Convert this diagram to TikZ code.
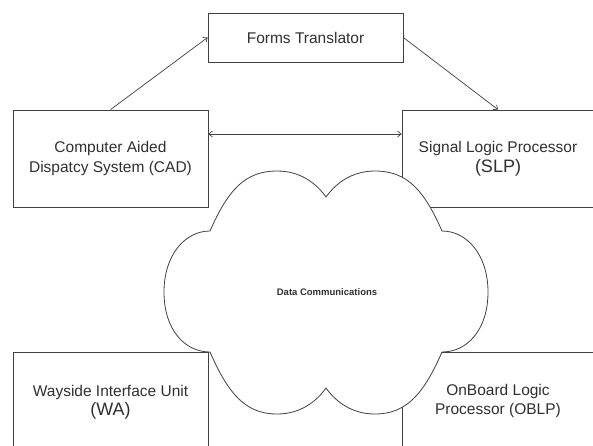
\documentclass[tikz,border=0pt]{standalone}
\usepackage{fontspec}
\setmainfont{Liberation Sans}
\usetikzlibrary{arrows.meta}
\definecolor{linec}{HTML}{404040}
\definecolor{textc}{HTML}{303030}
\tikzset{
  boxnode/.style={draw=linec, line width=0.8pt, fill=white, inner sep=0pt, align=center,
    text=textc, font=\fontsize{15.5}{19.5}\selectfont},
  conn/.style={draw=linec, line width=0.7pt},
  tipend/.style={-{Straight Barb[length=3.5pt,width=6pt]}},
  tipboth/.style={{Straight Barb[length=3.5pt,width=6pt]}-{Straight Barb[length=3.5pt,width=6pt]}},
  cloudline/.style={draw=linec, line width=0.8pt, fill=white},
  bigpar/.style={font=\fontsize{18}{19.5}\selectfont}
}
\begin{document}
\begin{tikzpicture}[x=1pt,y=-1pt]
\useasboundingbox (0,0) rectangle (593,445);
% boxes
\node[boxnode, minimum width=195pt, minimum height=49pt] (ft) at (305.5,37.5) {Forms Translator};
\node[boxnode, minimum width=195pt, minimum height=97pt] (cad) at (110.5,158.5) {Computer Aided\\Dispatcy System (CAD)};
\node[boxnode, minimum width=192pt, minimum height=97pt] (slp) at (498,158.5) {Signal Logic Processor\\{\fontsize{18}{19.5}\selectfont (SLP)}};
\node[boxnode, minimum width=195pt, minimum height=100pt] (wa) at (110.5,402) {Wayside Interface Unit\\{\fontsize{18}{19.5}\selectfont (WA)}};
\node[boxnode, minimum width=192pt, minimum height=98pt] (oblp) at (498,401) {OnBoard Logic\\Processor (OBLP)};
% connectors
\draw[conn, tipend] (cad.north) -- (ft.west);
\draw[conn, tipend] (ft.east) -- (slp.north);
\draw[conn, tipboth] ([yshift=24.5pt]cad.east) -- ([yshift=24.5pt]slp.west);
% cloud
\path[cloudline]
  (210,231) .. controls (228,190) and (245,171) .. (277,171)
            .. controls (300,171) and (316,183) .. (326,197)
            .. controls (336,183) and (352,171) .. (375,171)
            .. controls (407,171) and (424,190) .. (442,231)
            .. controls (467,231) and (488,255) .. (488,292)
            .. controls (488,330) and (467,352) .. (442,352)
            .. controls (424,393) and (407,414) .. (375,414)
            .. controls (352,414) and (336,402) .. (326,388)
            .. controls (316,402) and (300,414) .. (277,414)
            .. controls (245,414) and (228,393) .. (210,352)
            .. controls (185,352) and (164,330) .. (164,292)
            .. controls (164,255) and (185,231) .. (210,231) -- cycle;
\node[text=textc, font=\bfseries\fontsize{9.5}{11}\selectfont, inner sep=0pt] (dc) at (327,292) {Data Communications};
\end{tikzpicture}
\end{document}
